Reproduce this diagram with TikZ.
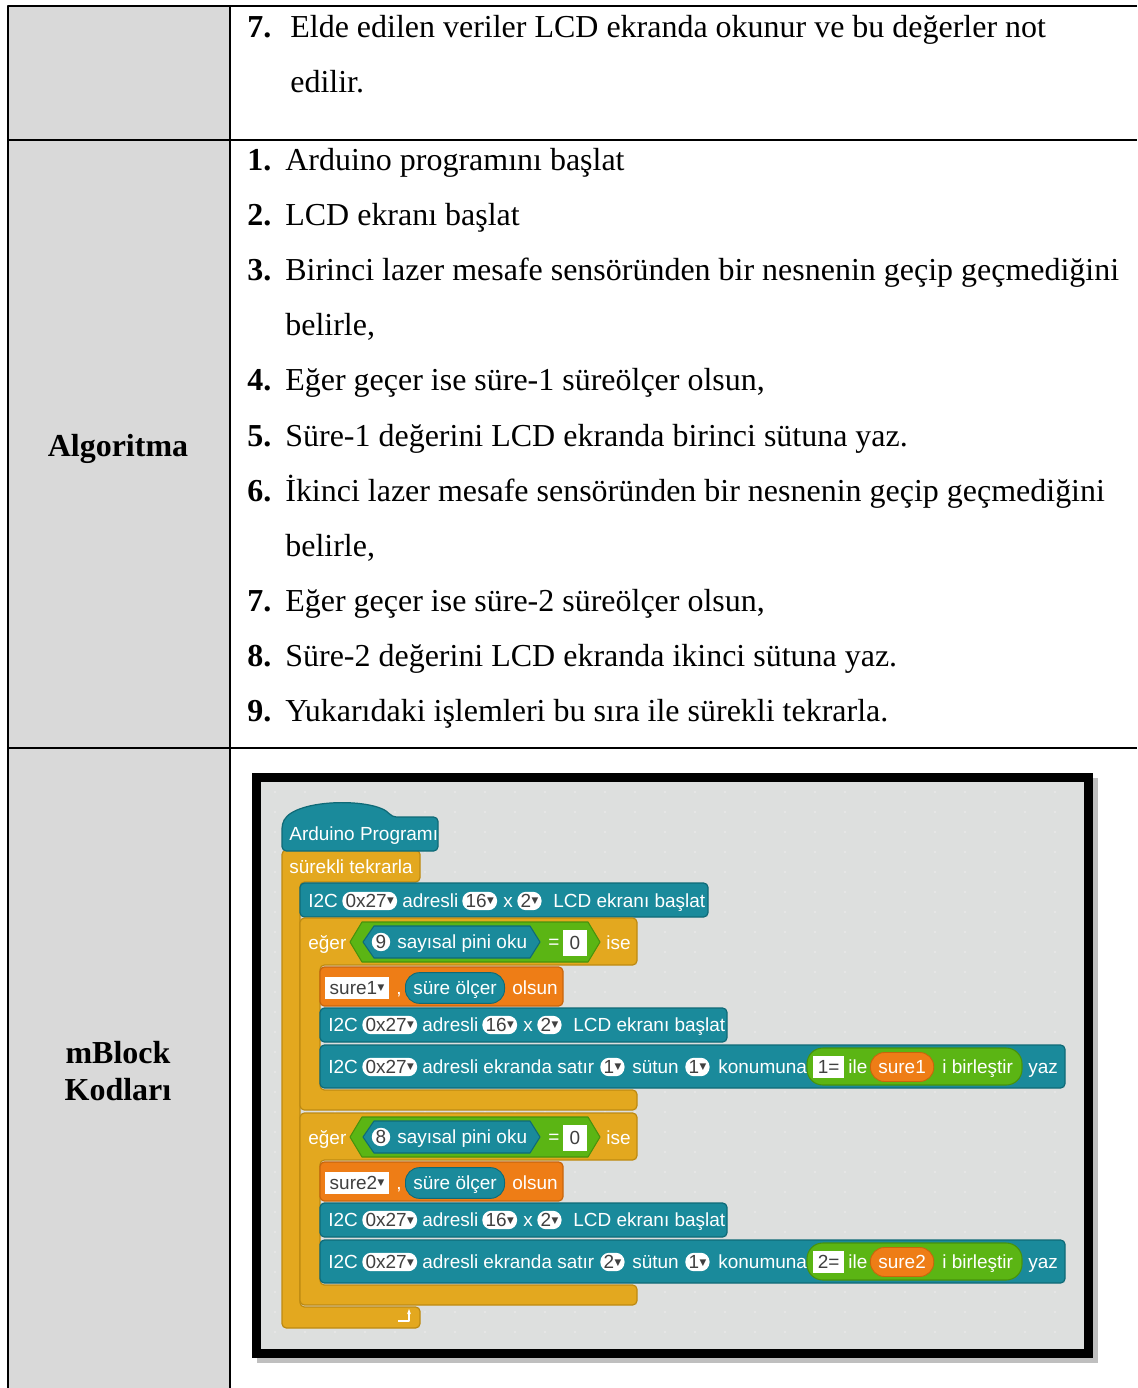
\documentclass[tikz,border=0pt]{standalone}
\usepackage{fontspec}
\setmainfont{Liberation Serif}
\newfontfamily\blockfont{Liberation Sans}
\newfontfamily\symfont{DejaVu Sans}
\usetikzlibrary{positioning, calc, arrows.meta}

\definecolor{cellgray}{HTML}{D9D9D9}
\definecolor{mbbg}{HTML}{DDDFDE}
\definecolor{mbteal}{HTML}{1A8A9B}
\definecolor{mbtealdark}{HTML}{0F6A77}
\definecolor{mbyellow}{HTML}{E3A81F}
\definecolor{mbyellowdark}{HTML}{BD8A12}
\definecolor{mborange}{HTML}{EE7D16}
\definecolor{mborangedark}{HTML}{C8650C}
\definecolor{mbgreen}{HTML}{5BB514}
\definecolor{mbgreendark}{HTML}{47920C}

\newcommand{\dd}{\kern0.3pt\raisebox{2pt}{\symfont\fontsize{5}{5}\selectfont ▼}}

\tikzset{
  alg/.style={anchor=base west, inner sep=0pt, font=\fontsize{18.2}{20}\selectfont},
  num/.style={alg, font=\fontsize{18.2}{20}\selectfont\bfseries},
  rowhead/.style={anchor=base, inner sep=0pt, font=\fontsize{18.2}{20}\selectfont\bfseries},
  gridline/.style={line width=1.5pt},
  bt/.style={anchor=west, inner sep=0pt, text=white, text height=7.8pt, text depth=0.4pt,
    font=\blockfont\fontsize{10.8}{12}\selectfont},
  slot/.style={bt, text=black!75, fill=white, rounded corners=5pt, minimum height=10.5pt, inner xsep=1.8pt},
  boxslot/.style={bt, text=black!75, fill=white, minimum height=12.5pt, inner xsep=2.5pt},
  numslot/.style={bt, anchor=center, text=black!75, fill=white, circle, minimum size=10.5pt},
  tealblk/.style={fill=mbteal, draw=mbtealdark, line width=0.7pt, rounded corners=2.5pt},
  ctrlblk/.style={fill=mbyellow, draw=mbyellowdark, line width=0.7pt, rounded corners=2.5pt},
  varblk/.style={fill=mborange, draw=mborangedark, line width=0.7pt, rounded corners=2.5pt},
  boolblk/.style={fill=mbgreen, draw=mbgreendark, line width=0.6pt},
}

\begin{document}
\begin{tikzpicture}[x=0.02cm, y=-0.02cm, line join=round]
\useasboundingbox (0,0) rectangle (1137,1388);

% tablo
\fill[cellgray] (8,6) rectangle (230,1388);
\draw[gridline] (1137,6) -- (8,6) -- (8,1388);
\draw[gridline] (230,6) -- (230,1388);
\draw[gridline] (8,140) -- (1137,140);
\draw[gridline] (8,748) -- (1137,748);

% satir basliklari
\node[rowhead] (alghead) at (118,456) {Algoritma};
\node[rowhead] (mbhead) at (118,1063) {mBlock};
\node[rowhead] (kodhead) at (118,1100) {Kodları};

% ust satir
\node[num] (n7) at (247,38) {7.};
\node[alg] (t7a) at (290,38) {Elde edilen veriler LCD ekranda okunur ve bu değerler not};
\node[alg] (t7b) at (290,93) {edilir.};

% algoritma adimlari
\foreach \i/\k/\t in {0/1./{Arduino programını başlat},
    1/2./{LCD ekranı başlat},
    2/3./{Birinci lazer mesafe sensöründen bir nesnenin geçip geçmediğini},
    3//{belirle,},
    4/4./{Eğer geçer ise süre-1 süreölçer olsun,},
    5/5./{Süre-1 değerini LCD ekranda birinci sütuna yaz.},
    6/6./{İkinci lazer mesafe sensöründen bir nesnenin geçip geçmediğini},
    7//{belirle,},
    8/7./{Eğer geçer ise süre-2 süreölçer olsun,},
    9/8./{Süre-2 değerini LCD ekranda ikinci sütuna yaz.},
    10/9./{Yukarıdaki işlemleri bu sıra ile sürekli tekrarla.}}{
  \node[num] (num\i) at (247,171+55*\i) {\k};
  \node[alg] (line\i) at (285,171+55*\i) {\t};
}

% mBlock ekrani
\fill[black!25] (257,778) rectangle (1098,1363);
\fill (252,773) rectangle (1093,1358);
\fill[mbbg] (261,782) rectangle (1084,1349);
\foreach \gx in {275,305,...,1075}
  \foreach \gy in {792,812,...,1340}
    \fill[black!9] (\gx,\gy) circle (0.6pt);

% surekli tekrarla
\draw[ctrlblk] (282,850) -- (420,850) -- (420,882) -- (300,882) -- (300,1307) -- (420,1307) -- (420,1328) -- (282,1328) -- cycle;
\node[bt] (forever) at (289,867) {sürekli tekrarla};
\draw[white, line width=1.2pt, -{Stealth[length=3pt]}] (398,1321) -- (409,1321) -- (409,1309);

% baslangic
\draw[tealblk] (282,851) -- (282,824) .. controls (296,798) and (376,798) .. (392,817) -- (438,817) -- (438,851) -- cycle;
\node[bt] (hat) at (289,834) {Arduino Programı};

% lcd baslat
\draw[tealblk] (300,883) rectangle (708,917);
\node[bt] (i2c0) at (308,901) {I2C};
\node[slot] (adr0) at (342,901) {0x27\dd};
\node[bt] (ad0) at (402,901) {adresli};
\node[slot] (col0) at (462,901) {16\dd};
\node[bt] (x0) at (503,901) {x};
\node[slot] (row0) at (517,901) {2\dd};
\node[bt] (lcd0) at (553,901) {LCD ekranı başlat};

% iki eger blogu
\foreach \dy/\pin/\vname/\row in {0/9/sure1/1, 195/8/sure2/2}{
 \begin{scope}[shift={(0,\dy)}]
  \draw[ctrlblk] (300,918) -- (637,918) -- (637,965) -- (320,965) -- (320,1090) -- (637,1090) -- (637,1110) -- (300,1110) -- cycle;
  \node[bt] (eger\row) at (308,943) {eğer};
  \draw[boolblk] (350,942) -- (362,922) -- (588,922) -- (600,942) -- (588,962) -- (362,962) -- cycle;
  \draw[boolblk, fill=mbteal, draw=mbtealdark] (363,942) -- (374,926) -- (530,926) -- (540,942) -- (530,958) -- (374,958) -- cycle;
  \node[numslot] (pin\row) at (381,942) {\pin};
  \node[bt] (oku\row) at (397,942) {sayısal pini oku};
  \node[bt] (eq\row) at (548,942) {=};
  \node[boxslot, anchor=center, minimum width=14pt, minimum height=15pt] (zero\row) at (575,943) {0};
  \node[bt] (ise\row) at (606,943) {ise};
  % degisken
  \draw[varblk] (320,967) rectangle (563,1006);
  \node[boxslot] (var\row) at (325,988) {\vname\dd};
  \node[bt] (comma\row) at (396,988) {,};
  \node[bt, fill=mbteal, draw=mbtealdark, line width=0.5pt, rounded corners=8pt, minimum height=17.5pt, inner xsep=4.5pt] (tmr\row) at (405,988) {süre ölçer};
  \node[bt] (olsun\row) at (512,988) {olsun};
  % lcd baslat
  \draw[tealblk] (320,1008) rectangle (727,1042);
  \node[bt] (i2ca\row) at (328,1025) {I2C};
  \node[slot] (adra\row) at (362,1025) {0x27\dd};
  \node[bt] (ada\row) at (422,1025) {adresli};
  \node[slot] (cola\row) at (482,1025) {16\dd};
  \node[bt] (xa\row) at (523,1025) {x};
  \node[slot] (rowa\row) at (537,1025) {2\dd};
  \node[bt] (lcda\row) at (573,1025) {LCD ekranı başlat};
  % yaz
  \draw[tealblk] (320,1045) rectangle (1065,1088);
  \node[bt] (i2cb\row) at (328,1067) {I2C};
  \node[slot] (adrb\row) at (362,1067) {0x27\dd};
  \node[bt] (adb\row) at (422,1067) {adresli ekranda satır};
  \node[slot] (satir\row) at (600,1067) {\row\dd};
  \node[bt] (sut\row) at (632,1067) {sütun};
  \node[slot] (sutun\row) at (685,1067) {1\dd};
  \node[bt] (kon\row) at (718,1067) {konumuna};
  \draw[boolblk, rounded corners=9pt] (807,1048) rectangle (1022,1085);
  \node[boxslot] (eqs\row) at (813,1067) {\row=};
  \node[bt] (ile\row) at (848,1067) {ile};
  \node[bt, fill=mborange, draw=mborangedark, line width=0.5pt, rounded corners=8pt, minimum height=16.5pt, inner xsep=4.5pt] (v\row) at (870,1067) {\vname};
  \node[bt] (bir\row) at (942,1067) {i birleştir};
  \node[bt] (yaz\row) at (1028,1067) {yaz};
 \end{scope}
}
\end{tikzpicture}
\end{document}
